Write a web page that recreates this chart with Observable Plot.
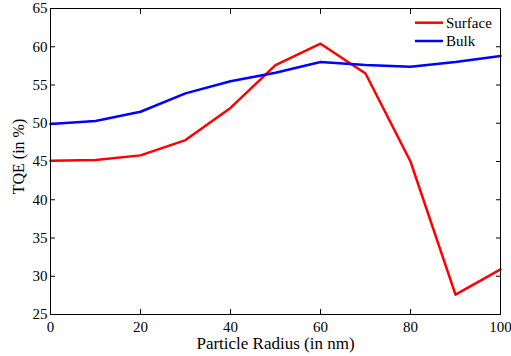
<!DOCTYPE html>
<html><head><meta charset="utf-8">
<script src="https://cdn.jsdelivr.net/npm/d3@7"></script>
<script src="https://cdn.jsdelivr.net/npm/@observablehq/plot@0.6"></script>
<style>body{margin:0;background:#fff}</style>
</head><body><div id="chart"></div>
<script>
const radius = [0, 10, 20, 30, 40, 50, 60, 70, 80, 90, 100];
const surface = [45.1, 45.2, 45.8, 47.8, 52.0, 57.6, 60.4, 56.5, 45.0, 27.6, 30.9];
const bulk = [49.9, 50.3, 51.5, 53.9, 55.5, 56.6, 58.0, 57.6, 57.4, 58.0, 58.8];
const xTicks = [0, 20, 40, 60, 80, 100];
const yTicks = [25, 30, 35, 40, 45, 50, 55, 60, 65];
const seriesNames = ["Surface", "Bulk"];
const seriesColors = ["#ff0000", "#0000ff"];
const xLabel = "Particle Radius (in nm)";
const yLabel = "TQE (in %)";

const rows = [];
seriesNames.forEach((s, k) => {
  const vals = k === 0 ? surface : bulk;
  radius.forEach((r, i) => rows.push({r, v: vals[i], s}));
});

const font = "'Liberation Serif', 'Times New Roman', serif";
const chart = Plot.plot({
  width: 511, height: 356,
  marginLeft: 50, marginRight: 11, marginTop: 8, marginBottom: 42,
  style: {fontFamily: font, fontSize: "15px", color: "#000", background: "#fff"},
  x: {domain: [0, 100]},
  y: {domain: [25, 65]},
  color: {domain: seriesNames, range: seriesColors},
  marks: [
    Plot.axisX(xTicks, {anchor: "bottom", tickSize: -5, tickPadding: 11.5, label: null, fontSize: 15}),
    Plot.axisX(xTicks, {anchor: "top", tickSize: -5, tickFormat: () => "", label: null}),
    Plot.axisY(yTicks, {anchor: "left", tickSize: -5, tickPadding: 8, label: null, fontSize: 15}),
    Plot.axisY(yTicks, {anchor: "right", tickSize: -5, tickFormat: () => "", label: null}),
    Plot.line(rows, {x: "r", y: "v", stroke: "s", z: "s", strokeWidth: 2.5}),
    Plot.frame({stroke: "#000", strokeWidth: 1}),
    Plot.text([xLabel], {text: d => d, frameAnchor: "bottom", textAnchor: "middle", dy: 29.5, lineAnchor: "middle", fontSize: 17}),
    Plot.text([yLabel], {text: d => d, frameAnchor: "left", textAnchor: "middle", rotate: -90, dx: -31.6, dy: -5, lineAnchor: "middle", fontSize: 16})
  ]
});
document.getElementById("chart").appendChild(chart);

// legend (inside top-right of plot)
const svg = d3.select(chart);
const lg = svg.append("g").attr("font-family", font).attr("font-size", 15).attr("text-anchor", "start");
seriesNames.forEach((name, i) => {
  const y = 22.7 + i * 18.3;
  lg.append("line").attr("x1", 415).attr("x2", 443).attr("y1", y).attr("y2", y)
    .attr("stroke", seriesColors[i]).attr("stroke-width", 2.5);
  lg.append("text").attr("x", 446).attr("y", y).attr("dy", "0.32em").attr("fill", "#000").text(name);
});
</script></body></html>
